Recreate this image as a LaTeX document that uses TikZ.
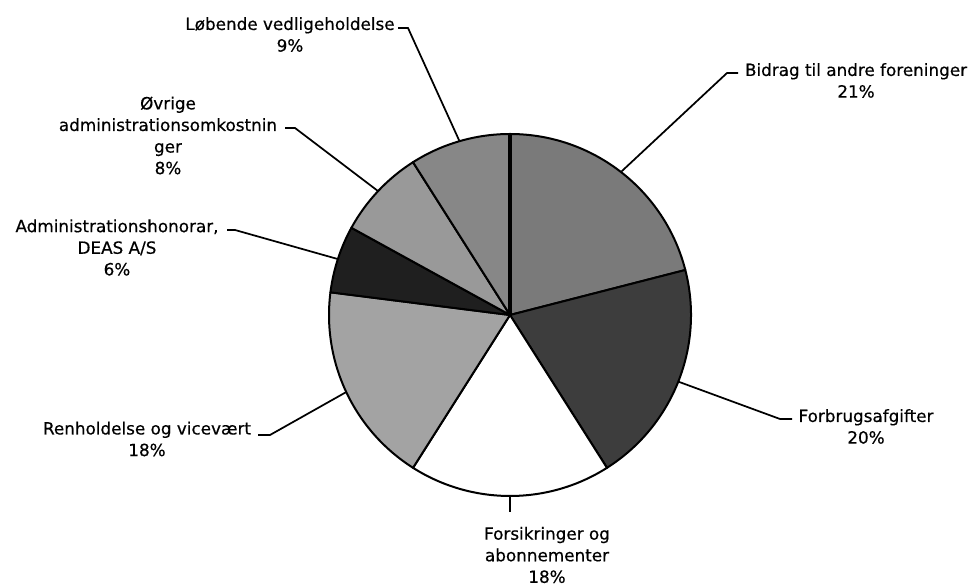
\documentclass[tikz,border=0pt]{standalone}
\usepackage{fontspec}
\setmainfont{DejaVu Sans}
\newfontfamily\lblfont[FakeBold=0.5]{DejaVu Sans}
\usetikzlibrary{calc}
\begin{document}
\begin{tikzpicture}[x=0.75pt,y=0.75pt,
  slice/.style={draw=black,line width=1.5pt,line join=round},
  leader/.style={draw=black,line width=1.3pt},
  lbl/.style={align=center,inner sep=0pt,font=\lblfont\fontsize{12.6}{16.2}\selectfont}]
\useasboundingbox (0,0) rectangle (973,585);
\def\R{135.75pt}
\coordinate (C) at (510,270);
% slices
\filldraw[slice,fill=black!52] (C) -- ++(90:\R) arc[start angle=90,end angle=14.4,radius=\R] -- cycle;
\filldraw[slice,fill=black!76] (C) -- ++(14.4:\R) arc[start angle=14.4,end angle=-57.6,radius=\R] -- cycle;
\filldraw[slice,fill=white] (C) -- ++(-57.6:\R) arc[start angle=-57.6,end angle=-122.4,radius=\R] -- cycle;
\filldraw[slice,fill=black!36] (C) -- ++(-122.4:\R) arc[start angle=-122.4,end angle=-187.2,radius=\R] -- cycle;
\filldraw[slice,fill=black!88] (C) -- ++(172.8:\R) arc[start angle=172.8,end angle=151.2,radius=\R] -- cycle;
\filldraw[slice,fill=black!40] (C) -- ++(151.2:\R) arc[start angle=151.2,end angle=122.4,radius=\R] -- cycle;
\filldraw[slice,fill=black!47] (C) -- ++(122.4:\R) arc[start angle=122.4,end angle=90,radius=\R] -- cycle;
\draw[line width=2.6pt] (C) -- ++(90:\R);
% labels
\node[lbl] (lob) at (290,550.5) {Løbende vedligeholdelse\\9\%};
\node[lbl] (ovr) at (168,449.5) {Øvrige\\administrationsomkostnin\\ger\\8\%};
\node[lbl] (adm) at (117,337.5) {Administrationshonorar,\\DEAS A/S\\6\%};
\node[lbl] (ren) at (147,146) {Renholdelse og vicevært\\18\%};
\node[lbl] (for) at (547,30) {Forsikringer og\\abonnementer\\18\%};
\node[lbl] (fbr) at (866,158.5) {Forbrugsafgifter\\20\%};
\node[lbl] (bid) at (856,504.5) {Bidrag til andre foreninger\\21\%};
% leader points
\coordinate (pLob) at ($(C)+(106.2:\R)$);
\coordinate (pOvr) at ($(C)+(136.8:\R)$);
\coordinate (pAdm) at ($(C)+(162:\R)$);
\coordinate (pRen) at ($(C)+(-154.8:\R)$);
\coordinate (pFor) at ($(C)+(-90:\R)$);
\coordinate (pFbr) at ($(C)+(-21.6:\R)$);
\coordinate (pBid) at ($(C)+(52.2:\R)$);
\coordinate (eLob) at (398,557);
\coordinate (eOvr) at (285,457);
\coordinate (eAdm) at (227,355);
\coordinate (eRen) at (258,150);
\coordinate (eFor) at (510,73);
\coordinate (eFbr) at (792,166);
\coordinate (eBid) at (738,512);
\draw[leader] (pLob) -- (408,557) -- (eLob);
\draw[leader] (pOvr) -- (295,457) -- (eOvr);
\draw[leader] (pAdm) -- (235,355) -- (eAdm);
\draw[leader] (pRen) -- (270,150) -- (eRen);
\draw[leader] (pFor) -- (eFor);
\draw[leader] (pFbr) -- (780,166) -- (eFbr);
\draw[leader] (pBid) -- (727,512) -- (eBid);
\end{tikzpicture}
\end{document}
